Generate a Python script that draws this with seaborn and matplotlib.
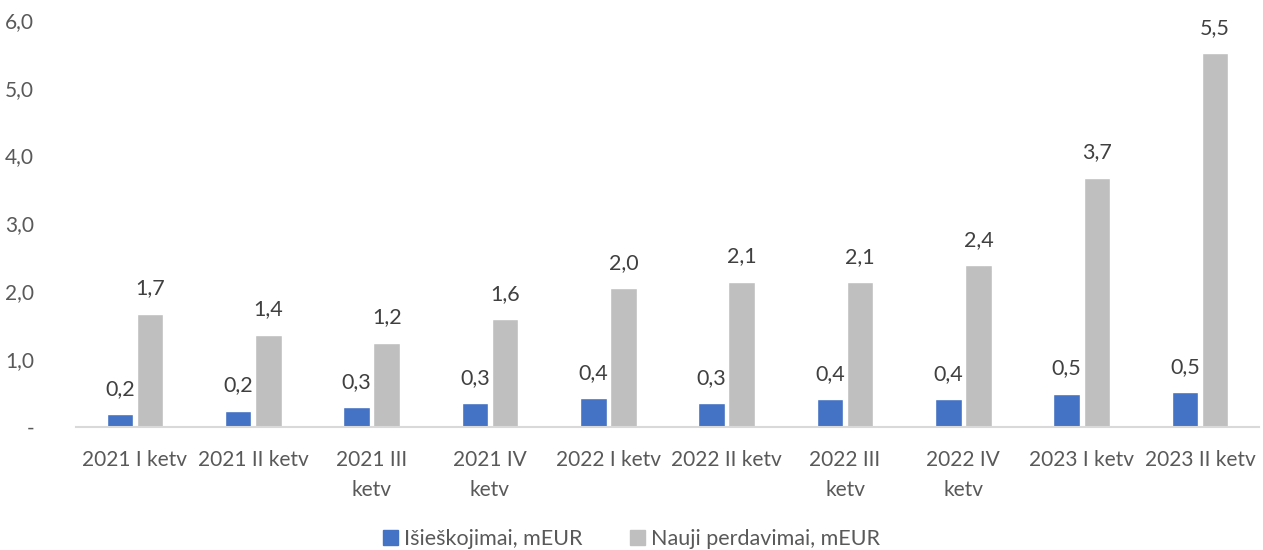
import pandas as pd
import matplotlib.pyplot as plt
import seaborn as sns

quarters = ["2021 I ketv", "2021 II ketv", "2021 III\nketv", "2021 IV\nketv",
            "2022 I ketv", "2022 II ketv", "2022 III\nketv", "2022 IV\nketv",
            "2023 I ketv", "2023 II ketv"]
isieskojimai = [0.19, 0.24, 0.29, 0.35, 0.42, 0.35, 0.41, 0.41, 0.49, 0.51]
perdavimai = [1.67, 1.36, 1.24, 1.59, 2.04, 2.14, 2.13, 2.38, 3.67, 5.51]
series_names = ["Išieškojimai, mEUR", "Nauji perdavimai, mEUR"]
colors = ["#4472C4", "#BFBFBF"]

df = pd.DataFrame({
    "Ketvirtis": quarters * 2,
    "Reikšmė": isieskojimai + perdavimai,
    "Serija": [series_names[0]] * len(quarters) + [series_names[1]] * len(quarters),
})

sns.set_style("white")
plt.rcParams["font.family"] = ["Lato", "DejaVu Sans"]

fig, ax = plt.subplots(figsize=(12.63, 5.5), dpi=100)
sns.barplot(data=df, x="Ketvirtis", y="Reikšmė", hue="Serija", palette=colors,
            width=0.51, gap=0.12, ax=ax, saturation=1, legend=False)

# data labels with comma decimal
for cont in ax.containers:
    ax.bar_label(cont, labels=[f"{v:.1f}".replace(".", ",") for v in cont.datavalues],
                 padding=11, fontsize=15.5, color="#404040")

ax.set_ylim(0, 6)
ax.set_yticks(range(7))
ax.set_yticklabels(["-"] + [f"{i},0" for i in range(1, 7)])
ax.set_xlim(-0.5, len(quarters) - 0.5)
ax.set_xlabel("")
ax.set_ylabel("")
ax.tick_params(axis="both", labelsize=15, labelcolor="#595959", length=0)
ax.tick_params(axis="x", pad=17)
ax.tick_params(axis="y", pad=30)
for lbl in ax.get_xticklabels():
    lbl.set_linespacing(1.6)
for s in ["top", "right", "left"]:
    ax.spines[s].set_visible(False)
ax.spines["bottom"].set_color("#D9D9D9")
ax.spines["bottom"].set_linewidth(1.5)

handles = [plt.Rectangle((0, 0), 1, 1, color=c) for c in colors]
fig.legend(handles, series_names, loc="center", bbox_to_anchor=(0.5, 0.02), ncol=2,
           frameon=False, fontsize=15.5, labelcolor="#595959", handlelength=0.7,
           handleheight=0.7, columnspacing=2.2, handletextpad=0.3)

plt.subplots_adjust(left=0.06, right=0.997, bottom=0.224, top=0.964)
plt.savefig("out.png", dpi=100)
